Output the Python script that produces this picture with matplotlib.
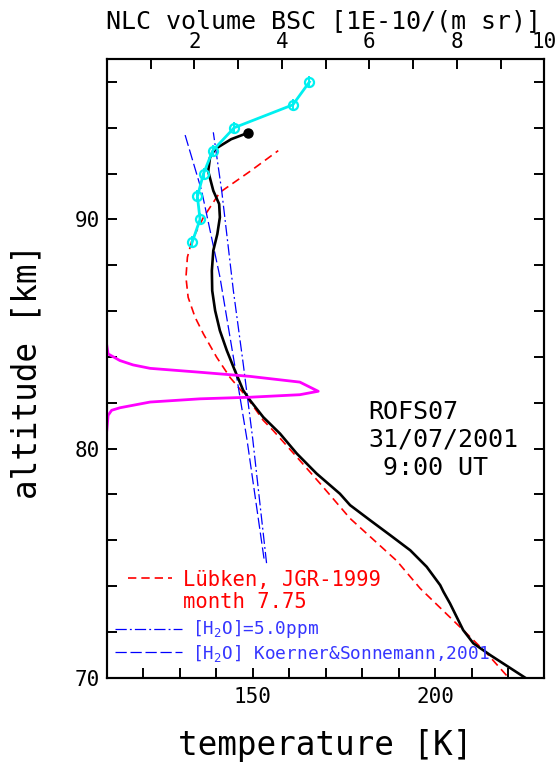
import numpy as np
import matplotlib
matplotlib.use("Agg")
import matplotlib.pyplot as plt
from matplotlib.ticker import MultipleLocator, FixedLocator

plt.rcParams['font.family'] = ['DejaVu Sans Mono', 'DejaVu Sans']
plt.rcParams['mathtext.fontset'] = 'custom'
plt.rcParams['mathtext.rm'] = 'DejaVu Sans Mono'

# lidar temperature profile (black)
tempAlt = [70.0, 70.99, 71.5, 72.08, 72.66, 73.24, 73.75, 74.04, 74.84, 75.56,
           76.22, 76.87, 77.53, 78.03, 78.91, 79.78, 80.65, 81.37, 82.1, 82.54,
           83.41, 84.28, 85.15, 86.02, 86.89, 87.76, 88.64, 89.36, 90.09, 90.67,
           91.25, 92.1, 92.7, 93.07, 93.5, 93.77]
tempK = [224.7, 215.1, 210.5, 207.7, 205.9, 204.1, 202.3, 201.4, 197.7, 193.2,
         187.7, 182.2, 176.7, 173.9, 167.5, 162.1, 157.5, 152.9, 149.3, 147.4,
         145.1, 142.9, 141.0, 139.7, 138.9, 138.8, 139.2, 140.3, 141.0, 140.8,
         139.2, 137.8, 138.3, 139.7, 144.1, 148.6]

# Luebken climatology (red dashed)
lubAlt = [70.1, 71.06, 72.08, 73.9, 75.1, 76.95, 78.47, 79.63, 80.79,
          81.23, 82.24, 83.1, 83.99, 85.0, 85.73, 86.6, 87.47, 88.35, 89.07,
          90.09, 91.18, 92.1, 93.0]
lubK = [219.6, 214.2, 207.7, 195.9, 189.5, 176.7, 168.5, 162.1, 155.6,
        152.9, 148.4, 143.8, 140.1, 136.5, 134.2, 132.3, 131.7, 132.1, 133.3,
        136.5, 141.0, 149.3, 157.0]

# frost point temperatures (blue)
frost5Alt = [75.0, 80.43, 83.7, 86.89, 91.25, 93.8]
frost5K = [153.8, 150.0, 147.4, 144.7, 141.5, 139.2]
frostKSAlt = [75.2, 80.43, 83.99, 87.5, 91.25, 93.8]
frostKSK = [153.1, 148.4, 144.7, 141.0, 136.0, 131.25]

# NLC backscatter profile (magenta) and NLC data points (cyan)
nlcAlt = [84.5, 84.13, 83.84, 83.65, 83.5, 83.33, 83.15, 82.9, 82.5, 82.35,
          82.24, 82.17, 82.03, 81.78, 81.67, 81.45, 80.8]
nlcBsc = [0.0, 0.03, 0.30, 0.60, 0.99, 2.13, 3.27, 4.41, 4.83, 4.41,
          3.27, 2.13, 0.99, 0.30, 0.11, 0.03, 0.0]
ptAlt = [89, 90, 91, 92, 93, 94, 95, 96]
ptBsc = [1.95, 2.13, 2.07, 2.21, 2.42, 2.91, 4.25, 4.63]

BLUE_TXT = '#3535ff'
RED_DASH = (5, 3)
DASHDOT = (9, 2.5, 1.5, 2.5)
LONGDASH = (9, 3)

fig = plt.figure(figsize=(5.58, 7.62), dpi=100)
ax = fig.add_axes([0.1914, 0.1106, 0.7844, 0.8120])

ax.plot(lubK, lubAlt, color='red', lw=1.2, dashes=RED_DASH)
ax.plot(frost5K, frost5Alt, color='blue', lw=0.9, dashes=DASHDOT)
ax.plot(frostKSK, frostKSAlt, color='blue', lw=0.9, dashes=LONGDASH)
ax.plot(tempK, tempAlt, color='black', lw=1.9)
ax.plot(tempK[-1:], tempAlt[-1:], 'o', color='black', ms=6.5)

ax.set_xlim(110, 230)
ax.set_ylim(70, 97)
ax.xaxis.set_major_locator(FixedLocator([150, 200]))
ax.xaxis.set_minor_locator(MultipleLocator(10))
ax.yaxis.set_major_locator(FixedLocator([70, 80, 90]))
ax.yaxis.set_minor_locator(MultipleLocator(2))
ax.tick_params(which='both', direction='in', length=7, width=1.4,
               right=True, top=False, labelsize=15)
ax.tick_params(axis='x', pad=7)
ax.tick_params(axis='y', pad=5)

ax2 = ax.twiny()
ax2.plot(nlcBsc, nlcAlt, color='#ff00ff', lw=2.0)
ax2.plot(ptBsc, ptAlt, color='#00f0f0', lw=2.0)
ax2.plot(ptBsc, ptAlt, 'o', ms=6.5, mfc='none', mec='#00f0f0', mew=1.6)
ax2.plot(ptBsc, ptAlt, '|', ms=8, mec='#00f0f0', mew=1.4)
ax2.set_xlim(0, 10)
ax2.xaxis.set_major_locator(FixedLocator([2, 4, 6, 8, 10]))
ax2.xaxis.set_minor_locator(MultipleLocator(1))
ax2.tick_params(which='both', direction='in', length=7, width=1.4,
                labelsize=15, pad=5)

for a in (ax, ax2):
    for s in a.spines.values():
        s.set_linewidth(1.5)

# station / date annotation
ax.text(181.6, 81.3, "ROFS07", fontsize=18)
ax.text(181.6, 80.07, "31/07/2001", fontsize=18)
ax.text(181.6, 78.86, " 9:00 UT", fontsize=18)

# legend keys
ax.plot([0.049, 0.148], [0.1607, 0.1607], transform=ax.transAxes,
        color='red', lw=1.2, dashes=RED_DASH)
ax.text(0.175, 0.1482, "Lübken, JGR-1999", transform=ax.transAxes,
        color='red', fontsize=14.8)
ax.text(0.175, 0.1122, "month 7.75", transform=ax.transAxes,
        color='red', fontsize=14.8)
ax.plot([0.019, 0.171], [0.0782, 0.0782], transform=ax.transAxes,
        color='blue', lw=0.9, dashes=DASHDOT)
ax.text(0.194, 0.0706, "[H$_2$O]=5.0ppm", transform=ax.transAxes,
        color=BLUE_TXT, fontsize=12.8)
ax.plot([0.019, 0.171], [0.042, 0.042], transform=ax.transAxes,
        color='blue', lw=0.9, dashes=LONGDASH)
ax.text(0.194, 0.0302, "[H$_2$O] Koerner&Sonnemann,2001", transform=ax.transAxes,
        color=BLUE_TXT, fontsize=12.8)

fig.text(0.579, 0.963, "NLC volume BSC [1E-10/(m sr)]", ha='center',
         va='baseline', fontsize=18)
fig.text(0.582, 0.0095, "temperature [K]", ha='center', va='baseline',
         fontsize=23.5)
fig.text(0.048, 0.5125, "altitude [km]", ha='center', va='center',
         rotation=90, fontsize=23.5)

fig.savefig("out.png", dpi=100)
